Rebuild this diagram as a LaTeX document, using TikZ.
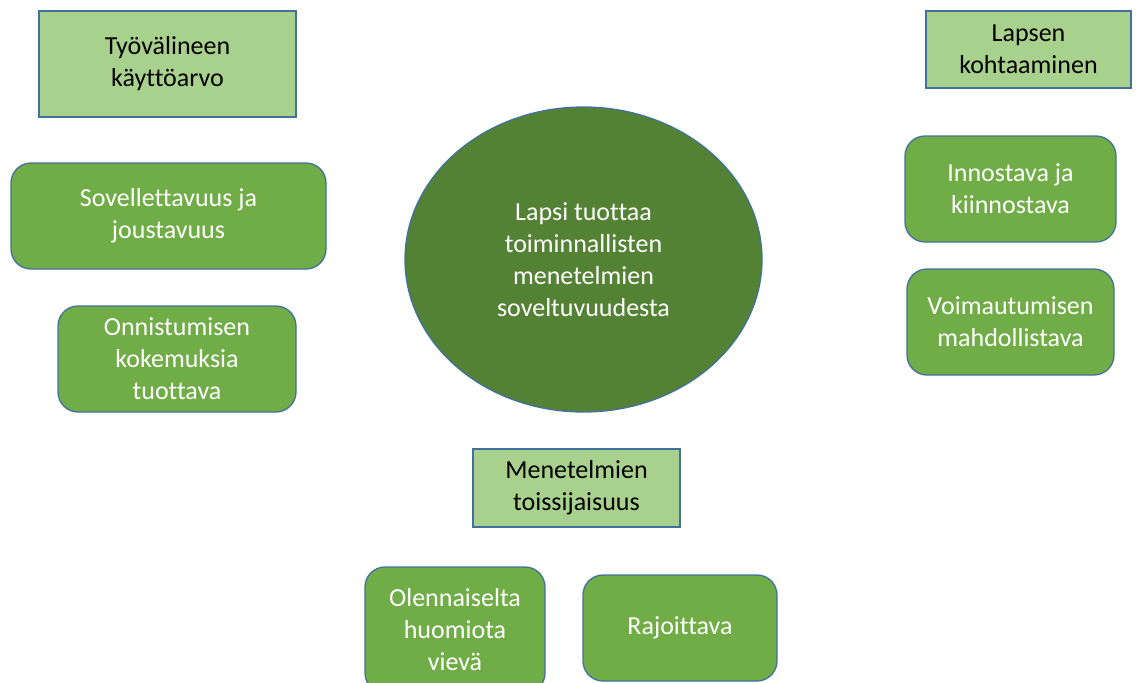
\documentclass[tikz,border=0pt]{standalone}
\usepackage{fontspec}
\setmainfont[Ligatures=NoCommon]{Carlito}
\usetikzlibrary{shapes.geometric}
\definecolor{lightg}{HTML}{A9D18E}
\definecolor{midg}{HTML}{70AD47}
\definecolor{darkg}{HTML}{548235}
\definecolor{edgeb}{HTML}{41719C}
\tikzset{
  base/.style={draw=edgeb, line width=1.3pt, align=center, inner sep=0pt,
    font=\fontsize{26}{32}\selectfont},
  head/.style={base, rectangle, fill=lightg, text=black},
  item/.style={base, rectangle, rounded corners=20pt, fill=midg, text=white},
  core/.style={base, ellipse, fill=darkg, text=white},
}
\begin{document}
\begin{tikzpicture}[x=1pt,y=-1pt]
\useasboundingbox (0,0) rectangle (1136,683);
\clip (0,0) rectangle (1136,683);
\node[head, minimum width=257pt, minimum height=106pt] (tyo) at (167.5,64) {Työvälineen\\käyttöarvo};
\node[head, minimum width=205pt, minimum height=77pt] (lap) at (1028.5,49.5) {Lapsen\\kohtaaminen};
\node[item, minimum width=315pt, minimum height=106pt] (sov) at (168.5,216) {Sovellettavuus ja\\joustavuus};
\node[item, minimum width=238pt, minimum height=106pt] (onn) at (177,359) {Onnistumisen\\kokemuksia\\tuottava};
\node[core, minimum width=357pt, minimum height=305pt] (core) at (583.5,259.5) {Lapsi tuottaa\\toiminnallisten\\menetelmien\\soveltuvuudesta};
\node[item, minimum width=211pt, minimum height=106pt] (inn) at (1010.5,189) {Innostava ja\\kiinnostava};
\node[item, minimum width=207pt, minimum height=106pt] (voi) at (1010.5,322) {Voimautumisen\\mahdollistava};
\node[head, minimum width=207pt, minimum height=78pt] (men) at (576.5,488) {Menetelmien\\toissijaisuus};
\node[item, minimum width=180pt, minimum height=126pt] (ole) at (455,630) {Olennaiselta\\huomiota\\vievä};
\node[item, minimum width=194pt, minimum height=106pt] (raj) at (680,628) {Rajoittava};
\end{tikzpicture}
\end{document}
